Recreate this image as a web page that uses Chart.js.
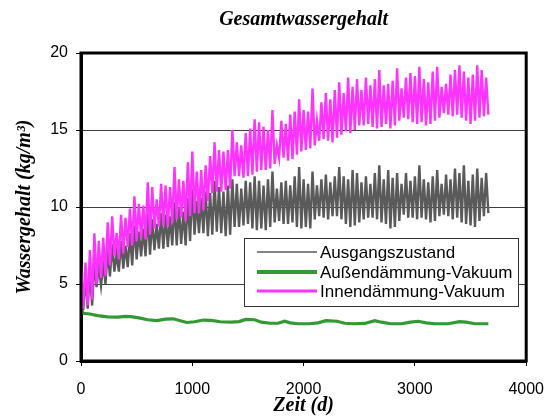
<!DOCTYPE html>
<html>
<head>
<meta charset="utf-8">
<script src="https://cdn.jsdelivr.net/npm/chart.js@4.4.1/dist/chart.umd.min.js"></script>
<style>
  html, body { margin: 0; padding: 0; background: #fff; }
  #wrap { width: 558px; height: 416px; }
</style>
</head>
<body>
<div id="wrap"><canvas id="c" width="558" height="416"></canvas></div>
<script>
// ---- Data ----
const seriesNames = ['Ausgangszustand', 'Außendämmung-Vakuum', 'Innendämmung-Vakuum'];
const xTicks = [0, 1000, 2000, 3000, 4000];
const yTicks = [0, 5, 10, 15, 20];

// sampling interval (days) of the oscillating series: a peak every STEP days, a trough half-way
const STEP = 40;

// Innendämmung-Vakuum: peak / trough values
const innenHi = [6.3,6.4,7.2,8.3,7.8,8.0,9.0,9.4,8.3,9.5,9.3,9.9,10.7,10.2,10.1,11.6,11.3,10.5,11.5,11.4,
  11.3,12.6,11.8,11.7,12.9,13.6,12.3,12.4,12.7,13.3,14.2,13.7,13.6,13.7,15.0,14.2,14.0,14.8,15.1,15.7,
  15.5,15.2,15.0,16.3,14.0,15.6,15.4,16.0,16.2,17.0,16.3,16.2,17.7,15.6,16.8,17.4,17.0,17.6,18.1,17.4,
  18.4,17.8,18.3,17.6,18.4,17.9,18.3,18.9,17.9,18.0,18.2,19.0,17.7,18.4,18.7,18.5,19.1,18.3,18.1,18.8,
  19.1,17.8,18.0,18.6,18.9,19.2,18.8,18.4,18.6,19.2,18.9,18.4];
const innenLo = [3.4,3.6,4.0,5.0,5.4,5.5,6.2,6.8,6.6,7.0,7.4,7.5,7.8,8.0,7.9,8.2,8.6,8.7,8.8,8.7,
  9.0,9.2,9.3,9.1,9.4,9.6,9.6,9.8,10.4,10.9,11.0,11.0,11.1,11.2,12.0,12.0,11.9,12.0,12.1,12.3,
  12.4,12.4,12.5,12.8,13.2,13.2,13.0,13.1,13.4,13.6,13.7,13.8,14.0,14.3,14.4,14.3,14.2,14.5,14.7,14.9,
  14.8,15.0,15.3,15.3,15.4,15.2,15.1,15.2,15.4,15.1,15.3,15.6,15.8,15.7,15.5,15.4,15.5,15.3,15.4,15.6,
  15.8,16.1,16.0,15.9,16.0,15.8,15.6,15.4,15.6,15.8,15.9,16.0];

// Ausgangszustand: peak / trough values
const ausgHi = [5.6,5.4,5.9,6.4,6.2,6.3,7.2,7.6,7.0,7.8,7.5,8.3,8.8,8.4,8.6,9.6,9.2,8.9,9.6,9.5,
  9.4,10.3,10.0,9.7,10.6,11.2,10.4,10.6,11.0,10.9,11.7,11.3,11.0,11.4,11.8,11.5,11.2,11.7,11.6,12.0,
  11.7,11.4,11.8,12.3,11.2,11.6,11.7,11.4,12.0,12.6,11.8,11.5,12.3,11.4,11.8,12.1,11.6,12.0,12.6,12.0,
  11.8,12.4,12.2,11.6,12.0,11.5,12.2,12.7,11.8,12.4,11.9,12.2,11.5,12.2,11.7,12.0,12.7,11.8,11.6,12.0,
  12.4,11.5,12.1,11.8,12.5,12.2,12.7,11.7,12.1,12.5,11.9,12.2];
const ausgLo = [3.3,3.4,3.6,4.8,4.9,5.0,5.5,5.8,5.8,6.0,6.1,6.2,6.6,6.8,6.8,6.9,7.2,7.3,7.3,7.4,
  7.5,7.5,7.6,7.5,7.8,8.2,8.3,8.3,8.1,8.2,8.4,8.3,8.1,8.2,8.7,8.7,8.8,8.9,8.6,8.5,
  8.6,8.5,8.7,9.0,9.1,8.9,8.9,9.0,8.7,8.6,8.7,8.6,9.2,9.4,9.3,9.2,9.4,9.4,9.2,8.9,
  8.7,8.8,9.0,9.2,9.3,9.3,9.2,9.0,8.9,8.6,8.7,9.1,9.5,9.3,9.3,9.2,9.3,9.2,9.0,9.1,
  9.4,9.5,9.4,9.2,9.3,9.0,8.9,8.8,8.7,9.1,9.4,9.6];

// Außendämmung-Vakuum: smooth series
const aussenDays = [0,20,80,150,240,330,400,450,520,600,680,760,830,900,950,1020,1100,1170,1250,1350,
  1420,1480,1560,1620,1700,1770,1830,1880,1950,2050,2130,2200,2300,2370,2450,2550,2640,2700,2780,2880,
  2960,3030,3100,3180,3300,3400,3460,3540,3660];
const aussenVals = [3.35,3.1,3.05,2.95,2.87,2.85,2.9,2.88,2.8,2.68,2.62,2.72,2.74,2.6,2.5,2.55,2.66,2.64,2.55,2.52,
  2.56,2.7,2.68,2.52,2.45,2.45,2.58,2.48,2.42,2.42,2.48,2.62,2.58,2.45,2.42,2.44,2.62,2.52,2.42,2.42,
  2.52,2.58,2.48,2.42,2.42,2.56,2.52,2.42,2.42];

// ---- build point tables ----
function zigzag(hi, lo) {
  const pts = [];
  for (let i = 0; i < hi.length; i++) {
    pts.push({ x: i * STEP, y: hi[i] });
    pts.push({ x: i * STEP + STEP / 2, y: lo[i] });
  }
  return pts;
}
const ausgPts = zigzag(ausgHi, ausgLo);
const innenPts = zigzag(innenHi, innenLo);
const aussenPts = aussenDays.map((d, i) => ({ x: d, y: aussenVals[i] }));

const colors = ['#5a5a5a', '#339933', '#ff33ff'];
const legendWidths = [1.5, 4, 3];

const frameAndLegend = {
  id: 'frameAndLegend',
  afterDatasetsDraw(chart) {
    const { ctx, chartArea: a } = chart;
    ctx.save();
    ctx.strokeStyle = '#000';
    ctx.lineWidth = 3;
    ctx.strokeRect(a.left, a.top, a.right - a.left, a.bottom - a.top);
    // legend box inside the plot
    const bx = 244, by = 238, bw = 274, bh = 68;
    ctx.fillStyle = '#fff';
    ctx.fillRect(bx, by, bw, bh);
    ctx.lineWidth = 1;
    ctx.strokeStyle = '#333';
    ctx.strokeRect(bx + 0.5, by + 0.5, bw, bh);
    const rows = [252, 272, 291];
    ctx.font = '17px "Liberation Sans", Arial, sans-serif';
    ctx.textBaseline = 'middle';
    ctx.textAlign = 'left';
    chart.data.datasets.forEach((ds, i) => {
      ctx.beginPath();
      ctx.strokeStyle = ds.borderColor;
      ctx.lineWidth = legendWidths[i];
      ctx.moveTo(257, rows[i]);
      ctx.lineTo(317, rows[i]);
      ctx.stroke();
      ctx.fillStyle = '#000';
      ctx.fillText(ds.label, 320, rows[i] + 1);
    });
    ctx.restore();
  }
};

new Chart(document.getElementById('c'), {
  type: 'line',
  data: {
    datasets: [
      { label: seriesNames[0], data: ausgPts, borderColor: colors[0], borderWidth: 2.4, pointRadius: 0, tension: 0, order: 2 },
      { label: seriesNames[1], data: aussenPts, borderColor: colors[1], borderWidth: 3.2, pointRadius: 0, tension: 0, order: 1 },
      { label: seriesNames[2], data: innenPts, borderColor: colors[2], borderWidth: 2.4, pointRadius: 0, tension: 0, order: 0 }
    ]
  },
  options: {
    responsive: false,
    animation: false,
    layout: { padding: { left: 0, right: 25, top: 0, bottom: 0 } },
    plugins: {
      legend: { display: false },
      tooltip: { enabled: false },
      title: {
        display: true,
        text: 'Gesamtwassergehalt',
        fullSize: false,
        color: '#000',
        font: { family: '"Liberation Serif", "Times New Roman", serif', size: 20, style: 'italic', weight: 'bold', lineHeight: 1.2 },
        padding: { top: 8, bottom: 21 }
      }
    },
    scales: {
      x: {
        type: 'linear',
        min: 0, max: 4000,
        afterBuildTicks: (s) => { s.ticks = xTicks.map(v => ({ value: v })); },
        afterFit: (s) => { s.height = 55; },
        grid: { drawOnChartArea: false, drawTicks: true, tickLength: 5, tickColor: '#000' },
        border: { display: true, color: '#000', width: 3 },
        ticks: { color: '#000', padding: 14, maxRotation: 0, callback: (v) => String(v), font: { family: '"Liberation Sans", Arial, sans-serif', size: 16 } },
        title: {
          display: true, text: 'Zeit (d)', color: '#000',
          font: { family: '"Liberation Serif", "Times New Roman", serif', size: 20, style: 'italic', weight: 'bold', lineHeight: 1.0 },
          padding: { top: 0, bottom: 0 }
        }
      },
      y: {
        min: 0, max: 20,
        afterBuildTicks: (s) => { s.ticks = yTicks.map(v => ({ value: v })); },
        afterFit: (s) => { s.width = 81; },
        grid: { drawOnChartArea: true, color: '#404040', lineWidth: 1, drawTicks: true, tickLength: 5, tickColor: '#000' },
        border: { display: true, color: '#000', width: 3 },
        ticks: { color: '#000', padding: 8, callback: (v) => String(v), font: { family: '"Liberation Sans", Arial, sans-serif', size: 16 } },
        title: {
          display: true, text: 'Wassergehalt (kg/m³)', color: '#000',
          font: { family: '"Liberation Serif", "Times New Roman", serif', size: 20, style: 'italic', weight: 'bold', lineHeight: 1.2 },
          padding: { top: 13, bottom: 0 }
        }
      }
    }
  },
  plugins: [frameAndLegend]
});
</script>
</body>
</html>
